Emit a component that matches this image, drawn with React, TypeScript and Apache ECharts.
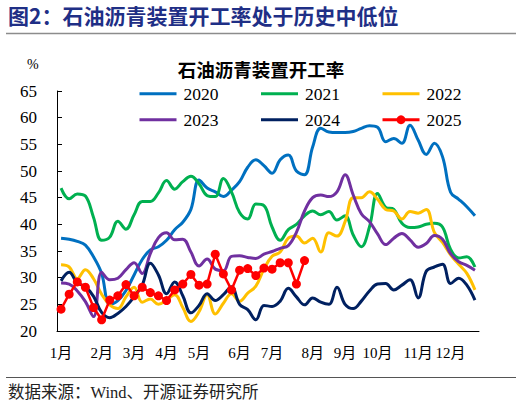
import React, { useEffect, useRef } from "react";
import * as echarts from "echarts";

const monthLabels = ["1月", "2月", "3月", "4月", "5月", "6月", "7月", "8月", "9月", "10月", "11月", "12月"];
const monthStartWeek = [0, 5, 9, 13, 17, 22, 26, 31, 35, 39, 44, 48];
const weeks = Array.from({ length: 52 }, (_, i) => "W" + (i + 1));

const s2020 = [37.4, 37.2, 36.8, 36.1, 33.9, 30.8, 25.0, 25.7, 27.6, 30.5, 33.4, 35.2, 35.8, 37.0, 39.0, 40.4, 42.8, 48.3, 46.8, 46.1, 45.2, 46.4, 48.0, 50.7, 52.1, 51.0, 49.6, 52.1, 53.0, 50.0, 49.3, 54.5, 58.0, 57.3, 57.2, 57.2, 57.4, 58.0, 58.5, 58.2, 55.5, 56.1, 55.2, 58.6, 55.8, 53.1, 55.2, 52.7, 46.0, 44.7, 43.3, 41.6];
const s2021 = [46.8, 44.8, 45.7, 45.3, 41.3, 37.0, 37.6, 40.6, 39.1, 41.8, 44.3, 44.3, 45.9, 48.2, 46.6, 48.0, 49.0, 47.6, 45.4, 45.2, 48.6, 46.1, 42.2, 41.0, 43.8, 43.5, 39.5, 37.0, 39.0, 40.0, 41.6, 42.5, 41.8, 42.4, 40.8, 41.6, 38.0, 35.8, 39.5, 45.8, 43.2, 42.8, 40.2, 39.4, 39.5, 40.0, 40.2, 39.5, 35.3, 33.7, 33.9, 32.0];
const s2022 = [32.4, 32.0, 29.8, 31.5, 29.8, 26.9, 24.9, 24.2, 26.4, 28.2, 25.4, 26.0, 25.0, 25.8, 26.8, 24.4, 21.8, 23.6, 26.8, 23.2, 25.2, 27.0, 25.6, 27.1, 28.4, 31.6, 34.0, 34.8, 37.4, 37.8, 36.5, 37.4, 34.8, 38.4, 37.8, 40.5, 45.0, 45.0, 46.1, 44.7, 42.8, 42.5, 41.0, 42.4, 42.1, 42.8, 38.5, 36.6, 34.3, 32.5, 30.8, 27.7];
const s2023 = [29.0, 28.8, 27.5, 25.5, 22.7, 31.0, 29.6, 29.9, 31.5, 32.8, 30.8, 34.5, 37.5, 38.4, 37.1, 37.2, 34.8, 32.2, 33.5, 31.6, 31.3, 34.0, 34.1, 33.8, 33.6, 34.4, 34.9, 35.5, 36.0, 38.5, 42.5, 45.0, 45.5, 45.2, 46.1, 49.3, 45.5, 42.0, 40.5, 38.2, 36.2, 37.4, 38.3, 37.1, 35.7, 36.4, 37.9, 37.2, 34.5, 33.0, 32.3, 31.4];
const s2024 = [29.4, 31.0, 29.0, 28.3, 26.5, 23.5, 22.5, 23.3, 24.6, 26.4, 28.6, 32.7, 30.5, 27.0, 29.2, 26.6, 23.4, 24.8, 27.0, 25.7, 26.8, 28.3, 25.0, 24.0, 22.1, 24.8, 24.6, 25.6, 28.0, 26.4, 24.9, 26.2, 25.4, 25.0, 28.2, 25.0, 24.2, 25.6, 27.5, 28.8, 28.9, 27.7, 28.6, 29.6, 26.2, 31.2, 32.0, 32.5, 28.9, 29.9, 28.6, 25.8];
const s2025 = [24.1, 26.9, 29.2, 28.2, 24.4, 22.1, 25.8, 26.6, 28.7, 26.6, 28.2, 27.2, 26.6, 25.7, 27.7, 28.8, 30.6, 28.6, 28.8, 34.4, 30.7, 27.7, 31.4, 31.7, 30.4, 31.8, 31.6, 32.8, 32.8, 28.8, 33.2];

const yTicks = { min: 20, max: 65, interval: 5 };

const SERIF = "'Liberation Serif', 'Noto Sans CJK SC', serif";
const CJK = "'Noto Sans CJK SC', 'Liberation Serif', sans-serif";

export default function App() {
  const ref = useRef<HTMLDivElement>(null);
  useEffect(() => {
    if (!ref.current) return;
    const chart = echarts.init(ref.current, null, { renderer: "svg" });
    const lineSeries = (name: string, data: number[], color: string) => ({
      name,
      type: "line",
      data,
      smooth: 0.4,
      symbol: "none",
      lineStyle: { color, width: 3 },
      itemStyle: { color },
    });
    const hideSym = (name: string) => ({ name, itemStyle: { opacity: 0 } });
    const legendBase = {
      left: 138,
      padding: 0,
      itemWidth: 37,
      itemHeight: 11,
      itemGap: 41,
      lineStyle: { width: 3 },
      textStyle: { fontFamily: SERIF, fontSize: 17.5, lineHeight: 17, color: "#000", padding: [0, 0, 0, 2] },
    };
    chart.setOption({
      animation: false,
      backgroundColor: "#fff",
      title: {
        text: "石油沥青装置开工率",
        left: "center",
        top: 60,
        padding: 0,
        textStyle: { fontFamily: CJK, fontSize: 18.5, lineHeight: 18, fontWeight: "bold", color: "#000" },
      },
      legend: [
        { ...legendBase, top: 85, data: [hideSym("2020"), hideSym("2021"), hideSym("2022")] },
        { ...legendBase, top: 111, data: [hideSym("2023"), hideSym("2024"), { name: "2025" }] },
      ],
      grid: { left: 57, right: 43, top: 91, bottom: 77 },
      xAxis: {
        type: "category",
        data: weeks,
        boundaryGap: true,
        axisLine: { lineStyle: { color: "#000", width: 1 } },
        axisTick: { inside: true, length: 5, interval: 4, lineStyle: { color: "#000" } },
        axisLabel: {
          interval: (idx: number) => monthStartWeek.includes(idx),
          formatter: (_v: string, idx: number) => {
            const k = monthStartWeek.indexOf(idx);
            return k >= 0 ? monthLabels[k] : "";
          },
          fontFamily: SERIF,
          fontSize: 15,
          color: "#000",
          margin: 14,
        },
        splitLine: { show: false },
      },
      yAxis: {
        type: "value",
        min: yTicks.min,
        max: yTicks.max,
        interval: yTicks.interval,
        axisLine: { show: true, lineStyle: { color: "#000", width: 1 } },
        axisTick: { show: true, inside: true, length: 5, lineStyle: { color: "#000" } },
        axisLabel: { fontFamily: SERIF, fontSize: 17, color: "#000", margin: 20 },
        splitLine: { show: false },
      },
      graphic: [
        {
          type: "text",
          left: 8,
          top: 4,
          style: { text: "图2：石油沥青装置开工率处于历史中低位", fontFamily: CJK, fontSize: 21, fontWeight: "bold", fill: "#1f2f86" },
        },
        { type: "line", shape: { x1: 6, y1: 33.5, x2: 516, y2: 33.5 }, style: { stroke: "#8c8c8c", lineWidth: 1.5 } },
        { type: "text", left: 27, top: 57, style: { text: "%", fontFamily: SERIF, fontSize: 14, fill: "#000" } },
        { type: "line", shape: { x1: 6, y1: 377.5, x2: 516, y2: 377.5 }, style: { stroke: "#555", lineWidth: 1 } },
        {
          type: "text",
          left: 8,
          top: 384,
          style: { text: "数据来源：Wind、开源证券研究所", fontFamily: SERIF, fontSize: 16.5, fill: "#222" },
        },
      ],
      series: [
        lineSeries("2020", s2020, "#0070c0"),
        lineSeries("2021", s2021, "#00b050"),
        lineSeries("2022", s2022, "#ffc000"),
        lineSeries("2023", s2023, "#7030a0"),
        lineSeries("2024", s2024, "#002060"),
        {
          name: "2025",
          type: "line",
          data: s2025,
          symbol: "circle",
          symbolSize: 9,
          showSymbol: true,
          showAllSymbol: true,
          lineStyle: { color: "#ff0000", width: 2.5 },
          itemStyle: { color: "#ff0000" },
        },
      ],
    });
    return () => chart.dispose();
  }, []);
  return <div ref={ref} style={{ position: "fixed", left: 0, top: 0, width: 522, height: 408 }} />;
}
